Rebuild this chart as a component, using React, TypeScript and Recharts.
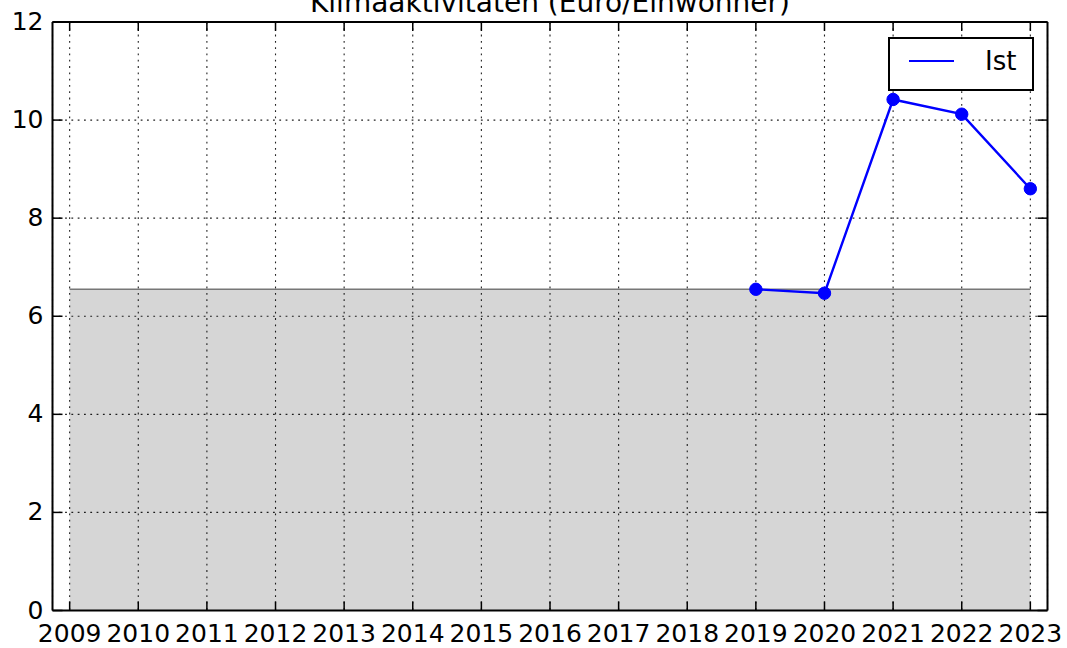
import React from "react";
import {
  ComposedChart,
  Area,
  Line,
  XAxis,
  YAxis,
  CartesianGrid,
  Legend,
} from "recharts";

// values
const years = [2009, 2010, 2011, 2012, 2013, 2014, 2015, 2016, 2017, 2018, 2019, 2020, 2021, 2022, 2023];
const sollValues = [6.55, 6.55, 6.55, 6.55, 6.55, 6.55, 6.55, 6.55, 6.55, 6.55, 6.55, 6.55, 6.55, 6.55, 6.55];
const istValues: (number | null)[] = [null, null, null, null, null, null, null, null, null, null, 6.55, 6.47, 10.42, 10.12, 8.6];
const yTicks = [0, 2, 4, 6, 8, 10, 12];

const TITLE = "Klimaaktivitäten (Euro/Einwohner)";
const FONT = "'DejaVu Sans', sans-serif";

const rows = years.map((year, i) => ({
  year,
  soll: sollValues[i],
  ist: istValues[i],
}));

// matplotlib-classic style: ticks point into the plot
function BottomTick(props: any) {
  const { x, y, payload } = props;
  return (
    <g>
      <line x1={x} x2={x} y1={y} y2={y - 9} stroke="#000" strokeWidth={1.5} />
      <text x={x} y={y + 31} textAnchor="middle" fontSize={25} fontFamily={FONT} fill="#000">
        {payload.value}
      </text>
    </g>
  );
}

function TopTick(props: any) {
  const { x, y } = props;
  return <line x1={x} x2={x} y1={y} y2={y + 9} stroke="#000" strokeWidth={1.5} />;
}

function LeftTick(props: any) {
  const { x, y, payload } = props;
  return (
    <g>
      <line x1={x} x2={x + 10} y1={y} y2={y} stroke="#000" strokeWidth={1.5} />
      <text x={x - 9} y={y + 8} textAnchor="end" fontSize={25} fontFamily={FONT} fill="#000">
        {payload.value}
      </text>
    </g>
  );
}

function RightTick(props: any) {
  const { x, y } = props;
  return <line x1={x} x2={x - 10} y1={y} y2={y} stroke="#000" strokeWidth={1.5} />;
}

function IstLegend() {
  return (
    <div
      style={{
        width: 146,
        height: 54,
        boxSizing: "border-box",
        border: "2px solid #000",
        background: "#fff",
        position: "relative",
        fontFamily: FONT,
      }}
    >
      <svg width={146} height={54} style={{ position: "absolute", left: -2, top: -2 }}>
        <line x1={21} x2={66} y1={24} y2={24} stroke="#0000ff" strokeWidth={2.2} />
        <text x={97} y={33} fontSize={26} fontFamily={FONT} fill="#000">Ist</text>
      </svg>
    </div>
  );
}

export default function App() {
  const frame = { stroke: "#000", strokeWidth: 2 };
  return (
    <div style={{ position: "absolute", left: 0, top: 0, width: 1067, height: 648, background: "#fff", overflow: "hidden" }}>
      <div
        style={{
          position: "absolute",
          left: 0,
          width: 1100,
          top: -11,
          lineHeight: "28px",
          textAlign: "center",
          fontFamily: FONT,
          fontSize: 28,
          color: "#000",
          zIndex: 2,
        }}
      >
        {TITLE}
      </div>
      <ComposedChart
        width={1067}
        height={648}
        data={rows}
        margin={{ top: 12, right: 9.5, bottom: 7.5, left: 12.5 }}
      >
        <CartesianGrid stroke="#222" strokeWidth={1.1} strokeDasharray="1.8 4.5" />
        <XAxis
          dataKey="year"
          type="number"
          domain={[2008.75, 2023.25]}
          ticks={years}
          interval={0}
          allowDataOverflow
          height={30}
          tickSize={0}
          tickMargin={0}
          tickLine={false}
          tick={<BottomTick />}
          axisLine={frame}
        />
        <XAxis
          xAxisId="top"
          orientation="top"
          dataKey="year"
          type="number"
          domain={[2008.75, 2023.25]}
          ticks={years}
          interval={0}
          allowDataOverflow
          height={10}
          tickSize={0}
          tickMargin={0}
          tickLine={false}
          tick={<TopTick />}
          axisLine={frame}
        />
        <YAxis
          type="number"
          domain={[0, 12]}
          ticks={yTicks}
          interval={0}
          allowDataOverflow
          width={40}
          tickSize={0}
          tickMargin={0}
          tickLine={false}
          tick={<LeftTick />}
          axisLine={frame}
        />
        <YAxis
          yAxisId="right"
          orientation="right"
          type="number"
          domain={[0, 12]}
          ticks={yTicks}
          interval={0}
          allowDataOverflow
          width={10}
          tickSize={0}
          tickMargin={0}
          tickLine={false}
          tick={<RightTick />}
          axisLine={frame}
        />
        <Legend
          layout="horizontal"
          verticalAlign="middle"
          align="center"
          wrapperStyle={{ left: 888, top: 37, width: 146, height: 54 }}
          content={() => <IstLegend />}
        />
        <Area
          type="linear"
          dataKey="soll"
          fill="#000"
          fillOpacity={0.16}
          stroke="#777"
          strokeWidth={1.5}
          dot={false}
          activeDot={false}
          legendType="none"
          isAnimationActive={false}
        />
        <Line
          type="linear"
          dataKey="ist"
          name="Ist"
          stroke="#0000ff"
          strokeWidth={2.4}
          dot={{ r: 6.2, fill: "#0000ff", stroke: "#0000ff", strokeWidth: 1 }}
          activeDot={false}
          connectNulls={false}
          isAnimationActive={false}
        />
      </ComposedChart>
    </div>
  );
}
